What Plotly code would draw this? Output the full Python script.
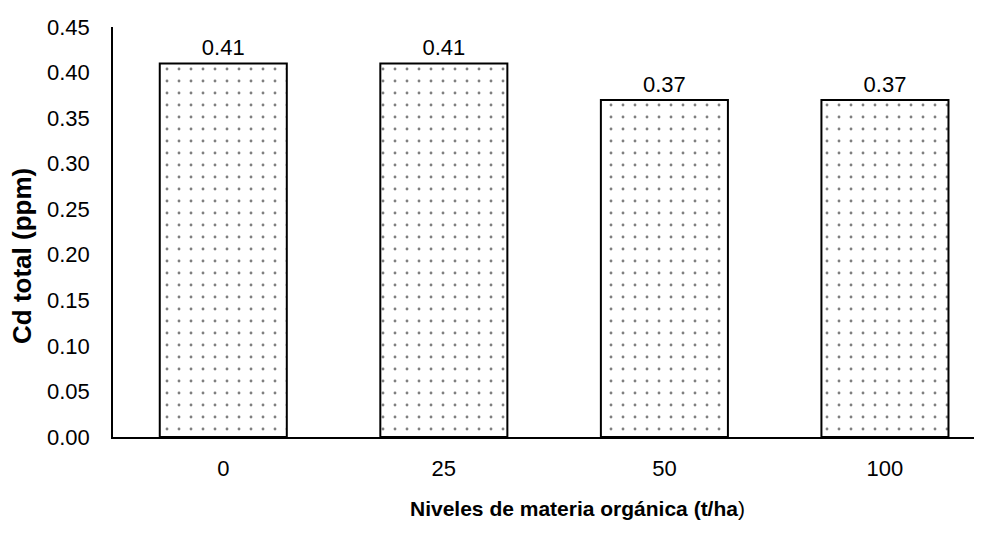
import plotly.graph_objects as go

# Data
niveles = ["0", "25", "50", "100"]
cd_total = [0.41, 0.41, 0.37, 0.37]
etiquetas = ["0.41", "0.41", "0.37", "0.37"]

FONT = "Arial, Liberation Sans, sans-serif"

# page body has an 8px margin, so the figure is drawn 8px smaller
W, H = 974, 525
ML, MT, MB = 105, 19, 96

fig = go.Figure(
    go.Bar(
        x=niveles,
        y=cd_total,
        text=etiquetas,
        textposition="outside",
        textfont=dict(size=22, color="black", family=FONT),
        width=0.576,
        cliponaxis=False,
        marker=dict(
            color="white",
            line=dict(color="black", width=2),
            pattern=dict(shape=".", size=12, solidity=0.045, fgcolor="black", bgcolor="white"),
        ),
    )
)

fig.update_layout(
    width=W,
    height=H,
    margin=dict(l=ML, r=0, t=MT, b=MB),
    plot_bgcolor="white",
    paper_bgcolor="white",
    font=dict(family=FONT, size=22, color="black"),
    showlegend=False,
    xaxis=dict(
        range=[-0.5, 3.44],
        showline=True,
        linecolor="black",
        linewidth=1.5,
        showgrid=False,
        ticks="",
        ticklabelstandoff=11,
        tickfont=dict(size=22),
    ),
    yaxis=dict(
        range=[0, 0.45],
        dtick=0.05,
        tickformat=".2f",
        showline=True,
        linecolor="black",
        linewidth=1.5,
        showgrid=False,
        ticks="",
        ticklabelstandoff=17,
        tickfont=dict(size=22),
        zeroline=False,
    ),
)

# axis titles placed by pixel position in the page
pw, ph = W - ML, H - MT - MB


def px_to_paper(x, y):
    return (x - 8 - ML) / pw, (H - MB - (y - 8)) / ph


tx, ty = px_to_paper(577, 508)
yx, yy = px_to_paper(22, 256)
fig.add_annotation(
    text="<b>Niveles de materia orgánica (t/ha</b>)",
    x=tx, y=ty, xref="paper", yref="paper",
    xanchor="center", yanchor="middle",
    showarrow=False, font=dict(size=21),
)
fig.add_annotation(
    text="<b>Cd total (ppm)</b>",
    x=yx, y=yy, xref="paper", yref="paper", textangle=-90,
    xanchor="center", yanchor="middle",
    showarrow=False, font=dict(size=26),
)

fig.write_html("out.html")
